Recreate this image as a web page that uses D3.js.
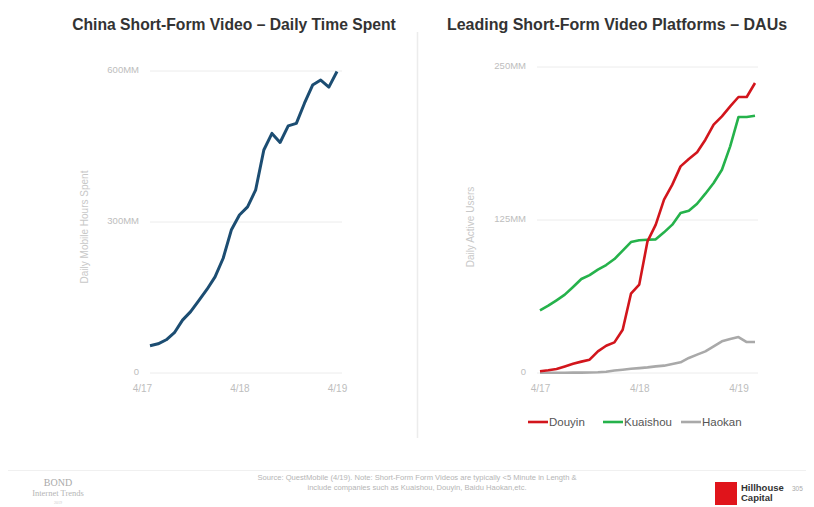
<!DOCTYPE html>
<html>
<head>
<meta charset="utf-8">
<script src="https://cdn.jsdelivr.net/npm/d3@7"></script>
<style>
  body { margin: 0; background: #fff; }
  svg { font-family: "Liberation Sans", Arial, sans-serif; }
</style>
</head>
<body>
<svg id="chart" width="814" height="507"></svg>
<script>
// months since 4/17
const timeMonths = d3.range(1, 25);
const timeSpent = [54, 58, 66, 80, 105, 122, 144, 166, 191, 228, 284, 314, 330, 364,
  443, 476, 458, 491, 496, 536, 572, 582, 568, 599];

const dauMonths = d3.range(0, 27);
const douyin = [1.4, 2.2, 3.3, 5.4, 7.6, 9.3, 10.9, 17.7, 22.3, 25, 35.4, 64.8, 72.2, 107.6,
  121.2, 141.6, 153.9, 168.8, 174.8, 180.3, 190.6, 202.9, 209.7, 217.8, 225.5, 225.5, 236.9];
const kuaishou = [51.2, 55, 59.4, 64, 70.3, 76.8, 80, 84.4, 88.2, 93.1, 100, 107, 108.4, 108.9,
  109.2, 114.9, 121.2, 130.7, 132.6, 138.3, 146.5, 155.2, 166.1, 185.2, 209.1, 209.1, 210.2];
const haokan = [0.2, 0.2, 0.2, 0.2, 0.3, 0.3, 0.4, 0.6, 1, 2, 2.7, 3.5, 4, 4.6,
  5.4, 6, 7.3, 8.7, 12.3, 15, 17.7, 21.8, 25.9, 27.8, 29.4, 25.3, 25.3];

const xTickMonths = [0, 12, 24];
const xTickLabels = ["4/17", "4/18", "4/19"];
const leftTicks = [0, 300, 600];
const rightTicks = [0, 125, 250];
const tickFmt = v => v === 0 ? "0" : v + "MM";

const seriesNames = ["Douyin", "Kuaishou", "Haokan"];
const seriesColors = ["#d2151c", "#25b24b", "#a9a9a9"];

const svg = d3.select("#chart");

// panel titles
svg.append("text").attr("x", 234).attr("y", 30).attr("text-anchor", "middle")
  .attr("font-size", 15.7).attr("font-weight", "bold").attr("fill", "#333")
  .text("China Short-Form Video – Daily Time Spent");
svg.append("text").attr("x", 617).attr("y", 30).attr("text-anchor", "middle")
  .attr("font-size", 16).attr("font-weight", "bold").attr("fill", "#333")
  .text("Leading Short-Form Video Platforms – DAUs");

// divider
svg.append("line").attr("x1", 417.5).attr("x2", 417.5).attr("y1", 32).attr("y2", 438)
  .attr("stroke", "#ececec").attr("stroke-width", 1.5);

function panel({months, series, colors, yMax, ticks, xRange, gridRange, yTop, yTitle, yTitleX, lineWidth}) {
  const x = d3.scaleLinear().domain([months[0], months[months.length - 1]]).range(xRange);
  const y = d3.scaleLinear().domain([0, yMax]).range([373, yTop]);
  const g = svg.append("g");

  g.selectAll(".grid").data(ticks).join("line")
    .attr("x1", gridRange[0]).attr("x2", gridRange[1])
    .attr("y1", d => y(d)).attr("y2", d => y(d))
    .attr("stroke", "#ececec").attr("stroke-width", 1);

  const yAxis = d3.axisLeft(y).tickValues(ticks).tickFormat(tickFmt).tickSize(0).tickPadding(0);
  g.append("g").attr("transform", `translate(${gridRange[0] - 11},0)`).call(yAxis)
    .call(a => a.select(".domain").remove())
    .call(a => a.selectAll("text").attr("fill", "#bdbdbd").attr("font-size", 9.5)
      .attr("font-family", "Liberation Sans, Arial, sans-serif").attr("dy", "0.2em"));

  const xAxis = d3.axisBottom(x).tickValues(xTickMonths)
    .tickFormat((d, i) => xTickLabels[i]).tickSize(0).tickPadding(0);
  g.append("g").attr("transform", "translate(0,385)").call(xAxis)
    .call(a => a.select(".domain").remove())
    .call(a => a.selectAll("text").attr("fill", "#bdbdbd").attr("font-size", 10)
      .attr("font-family", "Liberation Sans, Arial, sans-serif"));

  svg.append("text").attr("transform", `translate(${yTitleX},227) rotate(-90)`)
    .attr("text-anchor", "middle").attr("font-size", 10).attr("fill", "#c8c8c8")
    .text(yTitle);

  const line = d3.line().x((d, i) => x(months[i])).y(d => y(d));
  series.forEach((s, k) => {
    g.append("path").datum(s).attr("d", line)
      .attr("fill", "none").attr("stroke", colors[k])
      .attr("stroke-width", lineWidth).attr("stroke-linejoin", "round");
  });
  return x;
}

panel({
  months: timeMonths, series: [timeSpent], colors: ["#1c4d72"], yMax: 600,
  ticks: leftTicks, xRange: [150, 337], gridRange: [150, 342], yTop: 71,
  yTitle: "Daily Mobile Hours Spent", yTitleX: 88, lineWidth: 3
});

panel({
  months: dauMonths, series: [haokan, kuaishou, douyin],
  colors: [seriesColors[2], seriesColors[1], seriesColors[0]], yMax: 250,
  ticks: rightTicks, xRange: [540, 755], gridRange: [537, 758], yTop: 67,
  yTitle: "Daily Active Users", yTitleX: 474, lineWidth: 2.6
});

// legend
const legendX = [528, 603, 681];
const legend = svg.append("g");
seriesNames.forEach((n, i) => {
  legend.append("line").attr("x1", legendX[i]).attr("x2", legendX[i] + 20)
    .attr("y1", 422).attr("y2", 422).attr("stroke", seriesColors[i]).attr("stroke-width", 2.6);
  legend.append("text").attr("x", legendX[i] + 21).attr("y", 426)
    .attr("font-size", 11.5).attr("fill", "#555").text(n);
});

// footer
svg.append("line").attr("x1", 8).attr("x2", 806).attr("y1", 470.5).attr("y2", 470.5)
  .attr("stroke", "#f0f0f0");
svg.append("text").attr("x", 58).attr("y", 486).attr("text-anchor", "middle")
  .attr("font-family", "Liberation Serif, serif").attr("font-size", 10).attr("fill", "#aaa").text("BOND");
svg.append("text").attr("x", 58).attr("y", 496).attr("text-anchor", "middle")
  .attr("font-family", "Liberation Serif, serif").attr("font-size", 8.5).attr("fill", "#b5b5b5").text("Internet Trends");
svg.append("text").attr("x", 58).attr("y", 504).attr("text-anchor", "middle")
  .attr("font-family", "Liberation Serif, serif").attr("font-size", 4).attr("fill", "#ccc").text("2019");

svg.append("text").attr("x", 417).attr("y", 480).attr("text-anchor", "middle")
  .attr("font-size", 7.6).attr("fill", "#b5b5b5")
  .text("Source: QuestMobile (4/19). Note: Short-Form Form Videos are typically <5 Minute in Length &");
svg.append("text").attr("x", 417).attr("y", 490).attr("text-anchor", "middle")
  .attr("font-size", 7.6).attr("fill", "#b5b5b5")
  .text("include companies such as Kuaishou, Douyin, Baidu Haokan,etc.");

svg.append("rect").attr("x", 715).attr("y", 482).attr("width", 22).attr("height", 23).attr("fill", "#e0141b");
svg.append("text").attr("x", 741).attr("y", 491).attr("font-size", 9.5).attr("font-weight", "bold")
  .attr("fill", "#333").text("Hillhouse");
svg.append("text").attr("x", 741).attr("y", 501).attr("font-size", 9.5).attr("font-weight", "bold")
  .attr("fill", "#333").text("Capital");
svg.append("text").attr("x", 792).attr("y", 491).attr("font-size", 6.5).attr("fill", "#aaa").text("305");
</script>
</body>
</html>
